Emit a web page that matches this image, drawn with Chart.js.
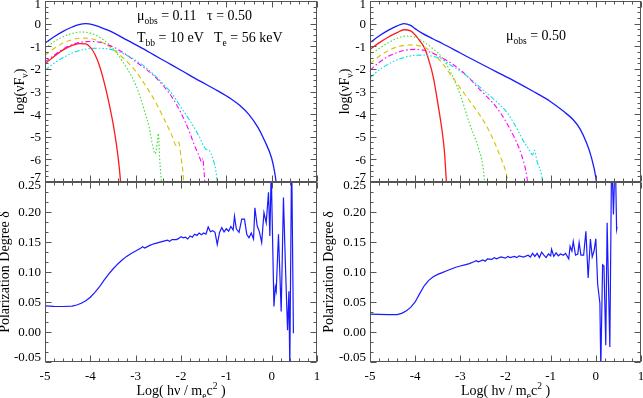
<!DOCTYPE html>
<html>
<head>
<meta charset="utf-8">
<script src="https://cdn.jsdelivr.net/npm/chart.js@4.4.1/dist/chart.umd.min.js"></script>
<style>
  html, body { margin: 0; padding: 0; background: #fff; }
  #wrap { position: relative; width: 643px; height: 398px; overflow: hidden; }
  #wrap canvas { position: absolute; left: 0; top: 0; }
</style>
</head>
<body>
<div id="wrap">
  <canvas id="tl" width="643" height="398"></canvas>
  <canvas id="bl" width="643" height="398"></canvas>
  <canvas id="tr" width="643" height="398"></canvas>
  <canvas id="br" width="643" height="398"></canvas>
</div>
<script>
// ---- spectra, mu_obs = 0.11 (left top) : [log(hv/mec2), log(vFv)]
const tlBlue = [[-5,-0.87],[-4.8,-0.58],[-4.6,-0.34],[-4.4,-0.15],[-4.25,-0.04],[-4.1,0],[-3.95,-0.04],[-3.8,-0.14],[-3.6,-0.3],[-3.4,-0.5],[-3.2,-0.72],[-2.9,-1.04],[-2.6,-1.38],[-2.3,-1.72],[-2.0,-2.06],[-1.6,-2.52],[-1.2,-2.96],[-0.9,-3.32],[-0.7,-3.62],[-0.5,-4.02],[-0.3,-4.6],[-0.15,-5.2],[0,-5.95],[0.06,-6.5],[0.12,-7.3]];
const tlRed = [[-5,-1.78],[-4.8,-1.45],[-4.6,-1.16],[-4.4,-0.96],[-4.25,-0.88],[-4.1,-0.9],[-4.0,-1.05],[-3.9,-1.35],[-3.8,-1.85],[-3.7,-2.55],[-3.6,-3.4],[-3.5,-4.4],[-3.42,-5.4],[-3.36,-6.4],[-3.32,-7.3]];
const tlGreen = [[-5,-1.1],[-4.8,-0.8],[-4.6,-0.58],[-4.4,-0.43],[-4.2,-0.37],[-4.0,-0.42],[-3.8,-0.6],[-3.6,-0.9],[-3.4,-1.35],[-3.2,-1.95],[-3.0,-2.7],[-2.9,-3.25],[-2.8,-3.9],[-2.7,-4.6],[-2.62,-5.45],[-2.57,-5.75],[-2.52,-5.2],[-2.5,-4.85],[-2.47,-6.0],[-2.42,-7.3]];
const tlYellow = [[-5,-1.4],[-4.8,-1.1],[-4.6,-0.86],[-4.4,-0.71],[-4.2,-0.64],[-4.0,-0.66],[-3.8,-0.78],[-3.6,-0.98],[-3.4,-1.3],[-3.2,-1.66],[-3.0,-2.1],[-2.8,-2.68],[-2.6,-3.33],[-2.4,-4.1],[-2.2,-4.95],[-2.1,-5.4],[-2.05,-5.25],[-2.0,-5.9],[-1.96,-6.5],[-1.93,-7.3]];
const tlMagenta = [[-5,-1.7],[-4.8,-1.4],[-4.6,-1.12],[-4.4,-0.93],[-4.2,-0.82],[-4.0,-0.79],[-3.8,-0.82],[-3.6,-0.95],[-3.4,-1.13],[-3.2,-1.38],[-3.0,-1.68],[-2.8,-1.97],[-2.6,-2.3],[-2.4,-2.72],[-2.2,-3.25],[-2.0,-3.95],[-1.8,-4.85],[-1.7,-5.4],[-1.6,-5.85],[-1.55,-6.1],[-1.52,-5.95],[-1.49,-6.6],[-1.46,-7.3]];
const tlCyan = [[-5,-2.06],[-4.8,-1.75],[-4.6,-1.5],[-4.4,-1.3],[-4.2,-1.17],[-4.0,-1.1],[-3.8,-1.09],[-3.6,-1.12],[-3.4,-1.22],[-3.2,-1.4],[-3.0,-1.62],[-2.8,-1.9],[-2.6,-2.25],[-2.4,-2.65],[-2.2,-3.1],[-2.0,-3.7],[-1.8,-4.3],[-1.6,-4.98],[-1.45,-5.55],[-1.38,-5.6],[-1.3,-5.95],[-1.24,-6.4],[-1.18,-7.3]];

// ---- spectra, mu_obs = 0.50 (right top)
const trBlue = [[-5,-0.84],[-4.8,-0.55],[-4.6,-0.3],[-4.4,-0.1],[-4.25,0],[-4.1,-0.08],[-4.0,-0.22],[-3.85,-0.42],[-3.6,-0.68],[-3.4,-0.88],[-3.0,-1.3],[-2.6,-1.72],[-2.2,-2.13],[-1.8,-2.54],[-1.4,-2.98],[-1.0,-3.45],[-0.7,-3.9],[-0.5,-4.25],[-0.35,-4.65],[-0.2,-5.3],[-0.1,-5.9],[0,-6.8],[0.03,-7.3]];
const trRed = [[-5,-1.14],[-4.8,-0.85],[-4.6,-0.6],[-4.4,-0.4],[-4.25,-0.27],[-4.1,-0.32],[-4.0,-0.5],[-3.9,-0.75],[-3.8,-1.05],[-3.7,-1.6],[-3.6,-2.35],[-3.5,-3.5],[-3.4,-4.8],[-3.35,-5.7],[-3.3,-7.3]];
const trGreen = [[-5,-1.39],[-4.8,-1.1],[-4.6,-0.85],[-4.4,-0.65],[-4.2,-0.55],[-4.0,-0.6],[-3.8,-0.82],[-3.6,-1.12],[-3.4,-1.5],[-3.2,-2.2],[-3.0,-3.15],[-2.8,-4.4],[-2.6,-5.5],[-2.5,-6.3],[-2.45,-7.3]];
const trYellow = [[-5,-1.76],[-4.8,-1.45],[-4.6,-1.2],[-4.4,-1.03],[-4.2,-0.95],[-4.05,-0.94],[-3.8,-1.05],[-3.6,-1.3],[-3.4,-1.75],[-3.2,-2.3],[-3.0,-2.85],[-2.8,-3.4],[-2.6,-3.95],[-2.4,-4.6],[-2.2,-5.45],[-2.1,-5.95],[-2.0,-6.5],[-1.91,-7.3]];
const trMagenta = [[-5,-2.06],[-4.8,-1.72],[-4.6,-1.45],[-4.4,-1.28],[-4.2,-1.17],[-4.0,-1.14],[-3.8,-1.18],[-3.6,-1.32],[-3.4,-1.52],[-3.2,-1.75],[-3.0,-2.05],[-2.8,-2.42],[-2.6,-2.85],[-2.4,-3.25],[-2.2,-3.7],[-2.0,-4.3],[-1.8,-5.05],[-1.7,-5.5],[-1.6,-6.1],[-1.55,-6.5],[-1.49,-7.3]];
const trCyan = [[-5,-2.39],[-4.8,-2.05],[-4.6,-1.8],[-4.4,-1.6],[-4.2,-1.47],[-4.0,-1.4],[-3.8,-1.39],[-3.6,-1.45],[-3.4,-1.58],[-3.2,-1.85],[-3.0,-2.1],[-2.8,-2.4],[-2.6,-2.75],[-2.4,-3.1],[-2.2,-3.45],[-2.0,-3.85],[-1.8,-4.45],[-1.6,-5.2],[-1.5,-5.5],[-1.4,-5.8],[-1.36,-5.6],[-1.3,-6.1],[-1.2,-6.7],[-1.16,-7.3]];

// ---- polarization degree
const blPol = [[-5,0.0436],[-4.8,0.0428],[-4.6,0.0425],[-4.4,0.0432],[-4.3,0.045],[-4.2,0.048],[-4.1,0.052],[-4.0,0.058],[-3.9,0.066],[-3.8,0.075],[-3.7,0.086],[-3.6,0.096],[-3.5,0.105],[-3.4,0.113],[-3.3,0.12],[-3.2,0.126],[-3.1,0.131],[-3.0,0.135],[-2.9,0.139],[-2.85,0.142],[-2.8,0.14],[-2.7,0.144],[-2.6,0.147],[-2.5,0.149],[-2.4,0.151],[-2.3,0.153],[-2.25,0.151],[-2.2,0.154],[-2.1,0.154],[-2.05,0.156],[-2.0,0.159],[-1.95,0.157],[-1.9,0.158],[-1.85,0.155],[-1.8,0.16],[-1.75,0.158],[-1.7,0.163],[-1.65,0.161],[-1.6,0.165],[-1.55,0.162],[-1.5,0.165],[-1.45,0.163],[-1.4,0.175],[-1.35,0.167],[-1.3,0.169],[-1.25,0.166],[-1.2,0.146],[-1.15,0.166],[-1.1,0.174],[-1.05,0.167],[-1.0,0.172],[-0.95,0.168],[-0.9,0.176],[-0.85,0.17],[-0.82,0.193],[-0.78,0.172],[-0.72,0.166],[-0.66,0.188],[-0.6,0.188],[-0.55,0.163],[-0.5,0.157],[-0.45,0.165],[-0.4,0.155],[-0.37,0.207],[-0.32,0.177],[-0.27,0.167],[-0.22,0.149],[-0.17,0.199],[-0.12,0.182],[-0.07,0.233],[-0.04,0.16],[-0.01,0.27],[0.05,0.0425],[0.08,0.075],[0.1,0.068],[0.15,0.163],[0.21,0.034],[0.26,0.224],[0.3,0.12],[0.35,0.003],[0.38,0.068],[0.4,-0.06],[0.44,0.3],[0.48,-0.002]];
const brPol = [[-5,0.0297],[-4.8,0.0293],[-4.6,0.0288],[-4.4,0.029],[-4.3,0.031],[-4.2,0.035],[-4.1,0.041],[-4.0,0.05],[-3.9,0.064],[-3.8,0.077],[-3.7,0.086],[-3.6,0.092],[-3.5,0.096],[-3.4,0.099],[-3.3,0.102],[-3.2,0.105],[-3.1,0.108],[-3.0,0.11],[-2.9,0.112],[-2.8,0.114],[-2.7,0.117],[-2.65,0.119],[-2.6,0.117],[-2.5,0.12],[-2.45,0.118],[-2.4,0.122],[-2.3,0.121],[-2.25,0.124],[-2.2,0.122],[-2.1,0.125],[-2.0,0.123],[-1.95,0.126],[-1.9,0.124],[-1.8,0.126],[-1.75,0.124],[-1.7,0.127],[-1.6,0.125],[-1.5,0.128],[-1.45,0.125],[-1.4,0.131],[-1.35,0.126],[-1.3,0.131],[-1.25,0.124],[-1.2,0.133],[-1.15,0.128],[-1.1,0.124],[-1.05,0.13],[-1.0,0.127],[-0.98,0.138],[-0.93,0.126],[-0.88,0.132],[-0.83,0.127],[-0.78,0.13],[-0.72,0.128],[-0.67,0.131],[-0.6,0.122],[-0.57,0.143],[-0.53,0.135],[-0.5,0.151],[-0.45,0.128],[-0.4,0.13],[-0.37,0.149],[-0.33,0.128],[-0.27,0.128],[-0.22,0.168],[-0.17,0.09],[-0.12,0.155],[-0.08,0.125],[-0.04,0.135],[0,0.1555],[0.04,0.08],[0.09,0.048],[0.11,-0.06],[0.15,0.112],[0.18,0.11],[0.22,-0.022],[0.25,0.182],[0.31,-0.025],[0.35,0.3],[0.39,0.196],[0.43,0.3],[0.46,0.171],[0.47,0.175]];

// axis tick labels
const xTicks = [-5, -4, -3, -2, -1, 0, 1];
const specTicks = [1, 0, -1, -2, -3, -4, -5, -6, -7];
const polTicks = ["0.25", "0.20", "0.15", "0.10", "0.05", "0.00", "-0.05"];

const serif = "'Liberation Serif', 'Times New Roman', serif";

function pts(arr) {
  return arr.map(function (p) { return { x: p[0], y: p[1] }; });
}

// text made of pieces: [string, ''|'sub'|'sup']
function partsWidth(ctx, parts, fs) {
  let w = 0;
  parts.forEach(function (p) {
    ctx.font = (p[1] ? fs * 0.68 : fs) + "px " + serif;
    w += ctx.measureText(p[0]).width;
  });
  return w;
}
function drawParts(ctx, parts, x, y, fs, center) {
  let cx = center ? x - partsWidth(ctx, parts, fs) / 2 : x;
  ctx.textBaseline = "alphabetic";
  ctx.textAlign = "left";
  parts.forEach(function (p) {
    let dy = 0;
    if (p[1] === "sub") dy = fs * 0.25;
    if (p[1] === "sup") dy = -fs * 0.42;
    ctx.font = (p[1] ? fs * 0.68 : fs) + "px " + serif;
    ctx.fillText(p[0], cx, y + dy);
    cx += ctx.measureText(p[0]).width;
  });
}

function makeFrame(cfg) {
  return {
    id: "frame_" + cfg.name,
    afterDraw: function (chart) {
      const ctx = chart.ctx;
      const a = chart.chartArea;
      const xs = chart.scales.x, ys = chart.scales.y;
      ctx.save();
      ctx.strokeStyle = "#555";
      ctx.fillStyle = "#000";
      ctx.lineWidth = 1;
      const L = Math.round(a.left) + 0.5, R = Math.round(a.right) - 0.5;
      const T = Math.round(a.top) + 0.5, B = Math.round(a.bottom) - 0.5;
      ctx.strokeRect(L, T, R - L, B - T);
      ctx.beginPath();
      // x ticks, top and bottom, pointing inward
      for (let i = 0; i <= 30; i++) {
        const px = Math.round(xs.getPixelForValue(-5 + i * 0.2)) + 0.5;
        const len = i % 5 === 0 ? 6 : 3;
        ctx.moveTo(px, B); ctx.lineTo(px, B - len);
        ctx.moveTo(px, T); ctx.lineTo(px, T + len);
      }
      // y ticks, left and right
      const n = Math.round((cfg.yMax - cfg.yMin) / cfg.yMinorStep);
      for (let i = 0; i <= n; i++) {
        const py = Math.round(ys.getPixelForValue(cfg.yMin + i * cfg.yMinorStep)) + 0.5;
        const len = i % cfg.yMinorPer === 0 ? 6 : 3;
        ctx.moveTo(L, py); ctx.lineTo(L + len, py);
        ctx.moveTo(R, py); ctx.lineTo(R - len, py);
      }
      ctx.stroke();

      // y tick labels (end labels pulled inside the frame a little)
      ctx.font = "13px " + serif;
      ctx.textAlign = "right";
      ctx.textBaseline = "middle";
      const last = cfg.yLabels.length - 1;
      cfg.yLabels.forEach(function (t, i) {
        let off = 1;
        if (i === 0) off = 4;
        if (i === last) off = -4;
        ctx.fillText(String(t), a.left - 4, ys.getPixelForValue(Number(t)) + off);
      });
      // x tick labels
      if (cfg.xLabels) {
        ctx.textAlign = "center";
        xTicks.forEach(function (t) {
          ctx.fillText(String(t), xs.getPixelForValue(t), a.bottom + 15);
        });
        drawParts(ctx, [["Log( h\u03bd / m", ""], ["e", "sub"], ["c", ""], ["2", "sup"], [" )", ""]],
          (a.left + a.right) / 2, a.bottom + 33, 14, true);
      }
      // y title, rotated
      ctx.save();
      ctx.translate(cfg.yTitleX, (a.top + a.bottom) / 2);
      ctx.rotate(-Math.PI / 2);
      drawParts(ctx, cfg.yTitle, 0, 5, 14, true);
      ctx.restore();
      // annotations
      (cfg.notes || []).forEach(function (nt) {
        drawParts(ctx, nt.parts, nt.x, nt.y, 14, false);
      });
      ctx.restore();
    }
  };
}

function specSets(blue, red, green, yellow, magenta, cyan) {
  return [
    { data: pts(cyan), borderColor: "#00e0e0", borderWidth: 1.1, borderDash: [5, 2, 1.5, 2, 1.5, 2, 1.5, 2] },
    { data: pts(magenta), borderColor: "#ff00ff", borderWidth: 1.1, borderDash: [5, 2.5, 1.5, 2.5] },
    { data: pts(yellow), borderColor: "#d4c200", borderWidth: 1.1, borderDash: [5, 3.5] },
    { data: pts(green), borderColor: "#33e033", borderWidth: 1.1, borderDash: [1.5, 2] },
    { data: pts(red), borderColor: "#ff1a1a", borderWidth: 1.3 },
    { data: pts(blue), borderColor: "#1a1aff", borderWidth: 1.3 }
  ];
}

function makeChart(id, datasets, area, yMin, yMax, frameCfg, smooth) {
  return new Chart(id, {
    type: "line",
    data: { datasets: datasets },
    options: {
      responsive: false,
      animation: false,
      devicePixelRatio: 1,
      events: [],
      layout: { padding: { left: area[0], top: area[1], right: 643 - area[2], bottom: 398 - area[3] } },
      elements: {
        point: { radius: 0 },
        line: { fill: false, tension: 0, cubicInterpolationMode: smooth ? "monotone" : "default" }
      },
      plugins: { legend: { display: false }, tooltip: { enabled: false } },
      scales: {
        x: { type: "linear", min: -5, max: 1, display: false },
        y: { type: "linear", min: yMin, max: yMax, display: false }
      }
    },
    plugins: [makeFrame(frameCfg)]
  });
}

const specTitle = [["log(\u03bdF", ""], ["\u03bd", "sub"], [")", ""]];
const polTitle = [["Polarization Degree \u03b4", ""]];
const mu = "\u03bc";

makeChart("tl", specSets(tlBlue, tlRed, tlGreen, tlYellow, tlMagenta, tlCyan), [45, 1, 317, 182], -7, 1, {
  name: "tl", yMin: -7, yMax: 1, yMinorStep: 0.25, yMinorPer: 4, yLabels: specTicks, xLabels: false,
  yTitle: specTitle, yTitleX: 19,
  notes: [
    { parts: [[mu, ""], ["obs", "sub"], [" = 0.11", ""]], x: 137, y: 20 },
    { parts: [["\u03c4 = 0.50", ""]], x: 207, y: 20 },
    { parts: [["T", ""], ["bb", "sub"], [" = 10 eV", ""]], x: 137, y: 42 },
    { parts: [["T", ""], ["e", "sub"], [" = 56 keV", ""]], x: 214, y: 42 }
  ]
}, true);

makeChart("bl", [{ data: pts(blPol), borderColor: "#1a1aff", borderWidth: 1.2 }], [45, 182, 317, 362], -0.05, 0.25, {
  name: "bl", yMin: -0.05, yMax: 0.25, yMinorStep: 0.05 / 3, yMinorPer: 3, yLabels: polTicks, xLabels: true,
  yTitle: polTitle, yTitleX: 4
}, false);

makeChart("tr", specSets(trBlue, trRed, trGreen, trYellow, trMagenta, trCyan), [370, 1, 641, 182], -7, 1, {
  name: "tr", yMin: -7, yMax: 1, yMinorStep: 0.25, yMinorPer: 4, yLabels: specTicks, xLabels: false,
  yTitle: specTitle, yTitleX: 344,
  notes: [
    { parts: [[mu, ""], ["obs", "sub"], [" = 0.50", ""]], x: 506, y: 40 }
  ]
}, true);

makeChart("br", [{ data: pts(brPol), borderColor: "#1a1aff", borderWidth: 1.2 }], [370, 182, 641, 362], -0.05, 0.25, {
  name: "br", yMin: -0.05, yMax: 0.25, yMinorStep: 0.05 / 3, yMinorPer: 3, yLabels: polTicks, xLabels: true,
  yTitle: polTitle, yTitleX: 328
}, false);
</script>
</body>
</html>
